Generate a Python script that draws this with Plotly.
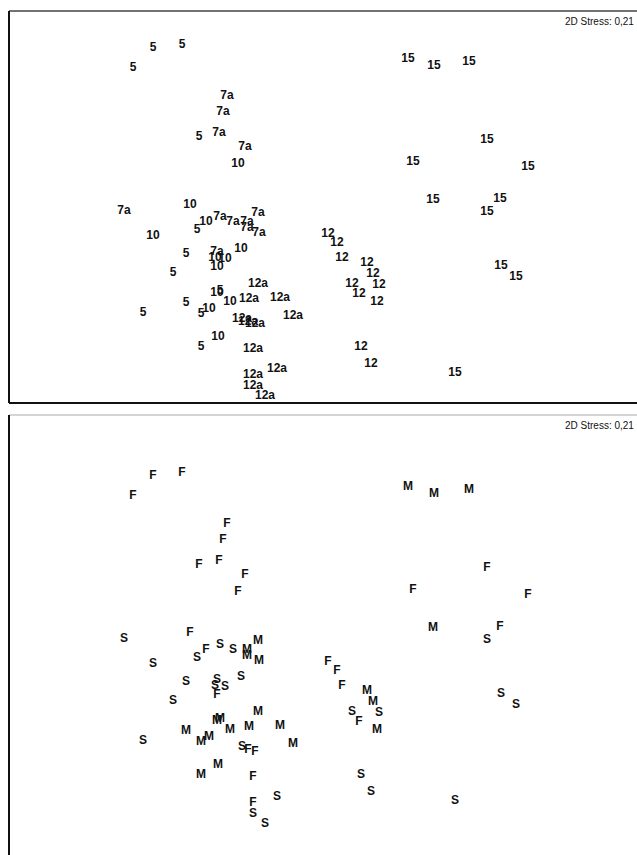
import plotly.graph_objects as go

# NMDS coordinates (same ordination shown twice with different labels)
nmds1 = [
    # group 5
    -1.67, -1.38, -1.87, -1.21, -1.23, -1.34, -1.47, -1.00, -1.34, -1.77, -1.19, -1.19,
    # group 7a
    -0.93, -0.97, -1.01, -0.75, -1.96, -1.00, -0.87, -0.73, -0.62, -0.73, -0.61, -1.03,
    # group 10
    -0.82, -1.30, -1.67, -1.14, -1.05, -0.95, -0.79, -1.03, -1.03, -0.90, -1.11, -1.02,
    # group 12
    0.08, 0.17, 0.22, 0.47, 0.53, 0.59, 0.32, 0.39, 0.57, 0.41, 0.51,
    # group 12a
    -0.62, -0.71, -0.40, -0.27, -0.78, -0.72, -0.65, -0.67, -0.67, -0.43, -0.67, -0.55,
    # group 15
    0.88, 1.14, 1.49, 1.67, 0.93, 2.08, 1.13, 1.80, 1.67, 1.81, 1.96, 1.35,
]
nmds2 = [
    1.72, 1.75, 1.52, 0.83, -0.10, -0.34, -0.53, -0.71, -0.83, -0.93, -0.94, -1.27,
    1.24, 1.08, 0.87, 0.73, 0.09, 0.03, -0.02, -0.02, 0.07, -0.08, -0.13, -0.32,
    0.56, 0.15, -0.16, -0.02, -0.38, -0.39, -0.29, -0.47, -0.73, -0.82, -0.89, -1.17,
    -0.14, -0.23, -0.38, -0.43, -0.54, -0.65, -0.64, -0.74, -0.82, -1.27, -1.44,
    -0.64, -0.79, -0.78, -0.96, -0.99, -1.02, -1.04, -1.29, -1.55, -1.49, -1.66, -1.76,
    1.61, 1.54, 1.58, 0.80, 0.58, 0.53, 0.20, 0.21, 0.08, -0.46, -0.57, -1.53,
]
site_labels = (["5"] * 12 + ["7a"] * 12 + ["10"] * 12 + ["12"] * 11
               + ["12a"] * 12 + ["15"] * 12)
season_labels = (
    list("FFFFSSSMMSMM")
    + list("FFFFSSSMMMMS")
    + list("FFSFSSSFMMMM")
    + list("FFFMMSSFMSS")
    + list("MMMMSFFFFSSS")
    + list("MMMFFFMFSSSS")
)
stress_text = "2D Stress: 0,21"

W, H = 637, 855
left_px = 9
top1_px, bot1_px = 11, 403
top2_px = 415
off2 = 428.3  # vertical offset of second panel content in px

def xr():
    return [(left_px - 320) / 100, (W - 320) / 100]

fig = go.Figure()
font = dict(family="Liberation Sans, Arial, sans-serif", size=12, color="#111", weight="bold")

fig.add_trace(go.Scatter(x=nmds1, y=nmds2, mode="text", text=site_labels,
                         textfont=font, xaxis="x", yaxis="y", hoverinfo="skip",
                         showlegend=False))
fig.add_trace(go.Scatter(x=nmds1, y=nmds2, mode="text", text=season_labels,
                         textfont=font, xaxis="x2", yaxis="y2", hoverinfo="skip",
                         showlegend=False))

ax = dict(showgrid=False, zeroline=False, showticklabels=False, ticks="",
          showline=False, fixedrange=True)

fig.update_layout(
    width=W, height=H,
    margin=dict(l=0, r=0, t=0, b=0),
    paper_bgcolor="white", plot_bgcolor="white",
    xaxis=dict(ax, domain=[left_px / W, 1], range=xr()),
    yaxis=dict(ax, domain=[1 - bot1_px / H, 1 - top1_px / H],
               range=[(220 - bot1_px) / 100, (220 - top1_px) / 100]),
    xaxis2=dict(ax, domain=[left_px / W, 1], range=xr(), anchor="y2"),
    yaxis2=dict(ax, domain=[0, 1 - top2_px / H], anchor="x2",
                range=[(220 + off2 - H) / 100, (220 + off2 - top2_px) / 100]),
)

frame = [
    dict(xref="x domain", yref="y domain", x0=0, x1=1, y0=1, y1=1, color="#444", w=1.5),
    dict(xref="x domain", yref="y domain", x0=0, x1=1, y0=0, y1=0, color="#111", w=2),
    dict(xref="x domain", yref="y domain", x0=0, x1=0, y0=0, y1=1, color="#111", w=2),
    dict(xref="x2 domain", yref="y2 domain", x0=0, x1=1, y0=1, y1=1, color="#aaa", w=1),
    dict(xref="x2 domain", yref="y2 domain", x0=0, x1=0, y0=0, y1=1, color="#111", w=2),
]
for f in frame:
    fig.add_shape(type="line", xref=f["xref"], yref=f["yref"], x0=f["x0"], x1=f["x1"],
                  y0=f["y0"], y1=f["y1"], line=dict(color=f["color"], width=f["w"]))

for yref in ["y domain", "y2 domain"]:
    fig.add_annotation(text=stress_text, xref="paper", yref=yref, x=1, y=1,
                       xanchor="right", yanchor="top", yshift=-3, xshift=-1,
                       showarrow=False,
                       font=dict(family="Liberation Sans, Arial, sans-serif", size=10,
                                 color="#111"))

fig.write_html(
    "out.html",
    config={"displayModeBar": False, "staticPlot": True},
    post_script="document.body.style.margin='0';document.body.style.overflow='hidden';",
)
